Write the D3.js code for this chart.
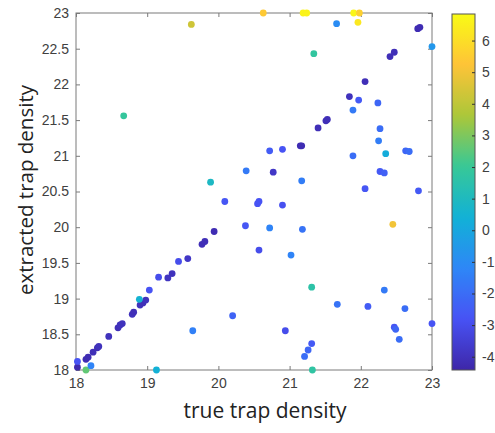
<!DOCTYPE html>
<html><head><meta charset="utf-8">
<script src="https://cdn.jsdelivr.net/npm/d3@7"></script>
<style>body{margin:0;background:#fff}svg{display:block}</style>
</head><body><svg id="c" width="495" height="433"></svg>
<script>
// true trap density (x)
const trueDensity = [
 18.02,18.14,18.17,18.24,18.30,18.32,18.46,18.59,18.62,18.65,18.79,18.81,18.90,18.94,18.98,
 19.29,19.35,19.57,19.77,19.81,19.94,20.77,21.15,21.17,21.40,21.51,21.53,21.84,22.06,22.41,22.47,22.80,22.83,
 18.02,18.14,18.21,18.89,19.03,19.16,19.44,20.09,20.38,20.55,20.57,20.57,20.20,19.64,19.13,
 20.90,20.72,21.18,21.02,21.31,22.33,21.67,22.10,22.62,23.00,20.94,22.47,22.49,22.54,21.31,21.26,21.21,21.32,
 22.45,22.06,22.81,22.27,22.33,21.17,21.89,20.72,20.90,22.63,22.68,22.35,22.25,22.27,22.24,21.89,21.97,
 21.34,23.00,21.66,19.62,18.67,19.89,20.39,20.63,21.19,21.24,21.90,21.98,21.96
];
// extracted trap density (y)
const extractedDensity = [
 18.04,18.15,18.18,18.25,18.31,18.33,18.47,18.59,18.63,18.65,18.78,18.81,18.91,18.94,18.98,
 19.29,19.35,19.56,19.76,19.80,19.94,20.77,21.14,21.14,21.39,21.49,21.51,21.83,22.04,22.39,22.45,22.78,22.80,
 18.12,18.00,18.06,18.99,19.12,19.30,19.52,20.36,20.02,20.33,20.36,19.68,18.76,18.55,18.00,
 20.31,19.99,19.97,19.61,19.16,19.12,18.92,18.89,18.86,18.65,18.55,18.60,18.57,18.43,18.37,18.28,18.19,18.00,
 20.04,20.54,20.51,20.78,20.76,20.65,21.00,21.07,21.09,21.07,21.06,21.03,21.21,21.38,21.74,21.64,21.78,
 22.43,22.53,22.85,22.84,21.56,20.63,20.79,23.00,23.00,23.00,23.00,23.00,22.87
];
// colour value
const colorValue = [
 -4.3,-4.2,-4.2,-4.1,-4.1,-4.0,-4.0,-4.1,-4.0,-4.0,-4.0,-4.1,-4.0,-4.1,-4.0,
 -3.9,-4.0,-3.8,-4.1,-4.1,-4.2,-3.8,-4.2,-4.2,-4.1,-4.1,-4.1,-4.0,-4.1,-4.1,-4.1,-4.2,-4.2,
 -2.8,2.6,-1.3,0.5,-2.8,-3.0,-3.0,-2.7,-2.7,-2.8,-2.8,-3.0,-2.3,-1.4,0.4,
 -2.9,-1.3,-1.8,-1.3,1.6,-1.6,-1.8,-2.5,-2.0,-2.8,-3.0,-2.7,-2.2,-2.0,-2.6,-2.2,-2.0,1.7,
 5.0,-2.7,-2.6,-2.6,-2.4,-1.5,-2.0,-2.5,-2.8,-2.2,-2.0,0.2,-1.5,-2.0,-2.2,-1.6,-2.6,
 1.8,-0.6,-1.0,4.3,1.9,0.9,-1.6,5.4,6.6,6.6,6.7,5.6,6.3
];
const xTicks = [18,19,20,21,22,23];
const yTicks = [18,18.5,19,19.5,20,20.5,21,21.5,22,22.5,23];
const cTicks = [-4,-3,-2,-1,0,1,2,3,4,5,6];
const cRange = [-4.42, 6.84];
const parula = [[0.2422,0.1504,0.6603],[0.2810,0.3228,0.9579],[0.1786,0.5289,0.9682],[0.0689,0.6948,0.8394],[0.2161,0.7843,0.5923],[0.6720,0.7793,0.2227],[0.9970,0.7659,0.2199],[0.9769,0.9839,0.0805]];

const svg = d3.select("#c");
const x = d3.scaleLinear().domain([18,23]).range([76,432]);
const y = d3.scaleLinear().domain([18,23]).range([370,13]);
const parulaInterp = d3.piecewise(d3.interpolateRgb, parula.map(c=>d3.rgb(c[0]*255,c[1]*255,c[2]*255)));
const col = d3.scaleSequential(parulaInterp).domain(cRange);

const axisCol = "#7a7a7a", textCol = "#404040";
// box
svg.append("rect").attr("x",76).attr("y",13).attr("width",356).attr("height",357)
  .attr("fill","none").attr("stroke",axisCol).attr("stroke-width",1);

function styleAxis(g){
  g.select(".domain").remove();
  g.selectAll("line").attr("stroke",axisCol);
  g.selectAll("text").attr("fill",textCol).attr("font-family","Liberation Sans, Arial, sans-serif").attr("font-size",14);
}
svg.append("g").attr("transform","translate(0,370)")
  .call(d3.axisBottom(x).tickValues(xTicks).tickFormat(d3.format("d")).tickSizeInner(-4).tickPadding(8))
  .call(styleAxis);
svg.append("g").attr("transform","translate(0,13)")
  .call(d3.axisTop(x).tickValues(xTicks).tickFormat("").tickSizeInner(-4))
  .call(styleAxis);
svg.append("g").attr("transform","translate(76,0)")
  .call(d3.axisLeft(y).tickValues(yTicks).tickFormat(d=>String(d)).tickSizeInner(-4).tickPadding(7))
  .call(styleAxis);
svg.append("g").attr("transform","translate(432,0)")
  .call(d3.axisRight(y).tickValues(yTicks).tickFormat("").tickSizeInner(-4))
  .call(styleAxis);

// points
const pts = trueDensity.map((d,i)=>({x:d,y:extractedDensity[i],c:colorValue[i]}));
svg.append("g").selectAll("circle").data(pts).join("circle")
  .attr("cx",d=>x(d.x)).attr("cy",d=>y(d.y)).attr("r",3.4)
  .attr("fill",d=>col(d.c));

// axis labels
svg.append("text").attr("x",265).attr("y",418).attr("text-anchor","middle")
  .attr("font-family","Open Sans, sans-serif").attr("font-size",21).attr("fill","#222")
  .text("true trap density");
svg.append("text").attr("transform","translate(33,190) rotate(-90)").attr("text-anchor","middle")
  .attr("font-family","Open Sans, sans-serif").attr("font-size",20.5).attr("fill","#222")
  .text("extracted trap density");

// colorbar
const cb = {x:452,y:14,w:23,h:356};
const cy = d3.scaleLinear().domain(cRange).range([cb.y+cb.h, cb.y]);
const defs = svg.append("defs");
const grad = defs.append("linearGradient").attr("id","pg").attr("x1",0).attr("y1",1).attr("x2",0).attr("y2",0);
d3.range(0,1.0001,0.02).forEach(t=>grad.append("stop").attr("offset",t).attr("stop-color",parulaInterp(t)));
svg.append("rect").attr("x",cb.x).attr("y",cb.y).attr("width",cb.w).attr("height",cb.h)
  .attr("fill","url(#pg)").attr("stroke","#555").attr("stroke-width",1);
const cg = svg.append("g").attr("transform",`translate(${cb.x+cb.w},0)`)
  .call(d3.axisRight(cy).tickValues(cTicks).tickFormat(d3.format("d")).tickSizeInner(-3).tickPadding(7));
cg.select(".domain").remove();
cg.selectAll("line").attr("stroke","#333");
cg.selectAll("text").attr("fill",textCol).attr("font-family","Liberation Sans, Arial, sans-serif").attr("font-size",14)
  .text(d=>d<0 ? "-"+Math.abs(d) : d);
</script></body></html>
